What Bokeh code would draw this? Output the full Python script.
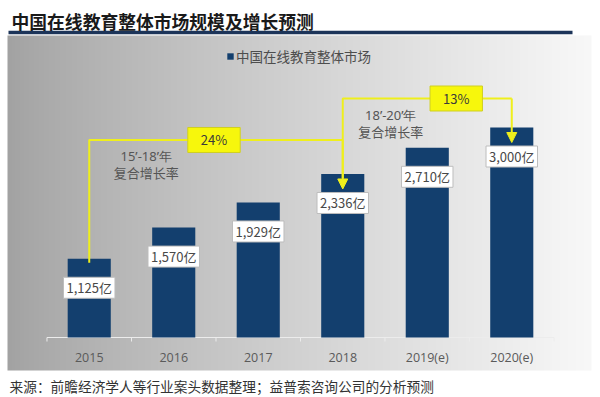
import numpy as np
from bokeh.plotting import figure
from bokeh.models import FactorRange, Range1d, Label, Arrow, NormalHead
from bokeh.embed import file_html
from bokeh.resources import INLINE

# ---------------- data ----------------
years = ["2015", "2016", "2017", "2018", "2019(e)", "2020(e)"]
market = [1125, 1570, 1929, 2336, 2710, 3000]          # 亿元
value_labels = [f"{v:,}亿" for v in market]
cagr_rates = ["24%", "13%"]
cagr_periods = ["15’-18’年", "18’-20’年"]
cagr_sub = ["复合增长率", "复合增长率"]
cagr_from = ["2015", "2018"]
cagr_to = ["2018", "2020(e)"]
series_name = "中国在线教育整体市场"
title_text = "中国在线教育整体市场规模及增长预测"
source_text = "来源：前瞻经济学人等行业案头数据整理；益普索咨询公司的分析预测"

# ---------------- layout helpers ----------------
W, H = 600, 397
PAD = 0.55                         # category padding
PPU = W / (len(years) + 2 * PAD)   # px per category
K = 0.070                          # px per 亿
BASE = 337                         # picture y of value 0


def X(px):   # picture x -> synthetic x
    return -PAD + px / PPU


def Y(py):   # picture y -> data y
    return (BASE - py) / K


def cx(cat):  # synthetic centre of a category
    return years.index(cat) + 0.5


FONT = "Noto Sans CJK SC"
YEL = "#efef1c"

p = figure(width=W, height=H,
           x_range=FactorRange(*years, range_padding=PAD, range_padding_units="absolute"),
           y_range=Range1d(Y(H), Y(0)),
           x_axis_location=None, y_axis_location=None,
           output_backend="svg", toolbar_location=None,
           min_border=0, min_border_left=0, min_border_right=0,
           min_border_top=0, min_border_bottom=0)
p.grid.visible = False
p.outline_line_color = None
p.background_fill_color = "white"
p.border_fill_color = "white"

# gray gradient panel
nx = 584
t = np.linspace(0, 1, nx)
g = (162 + (248 - 162) * t ** 0.85).astype(np.uint8)
img = np.zeros((1, nx), dtype=np.uint32)
view = img.view(dtype=np.uint8).reshape((1, nx, 4))
view[0, :, 0] = g
view[0, :, 1] = g
view[0, :, 2] = g
view[0, :, 3] = 255
p.image_rgba(image=[img], x=X(7), y=Y(370), dw=X(591) - X(7), dh=Y(35) - Y(370))

# title + underline
p.segment(x0=[X(8)], y0=[Y(32)], x1=[X(572)], y1=[Y(32)], line_color="#1c3459", line_width=3.5)
p.add_layout(Label(x=X(11), y=Y(20), text=title_text, text_font=FONT, text_font_size="17.8px",
                   text_font_style="bold", text_color="#1a1a1a", text_baseline="middle"))

# baseline axis
n = len(years)
p.line(x=[0, n], y=[0, 0], line_color="#ececec", line_width=1)
p.segment(x0=list(range(n + 1)), y0=[0] * (n + 1), x1=list(range(n + 1)), y1=[-4 / K] * (n + 1),
          line_color="#ececec", line_width=1)

# bars
p.vbar(x=years, top=market, width=0.51, fill_color="#133f6e", line_color=None,
       legend_label=series_name)

lg = p.legend[0]
lg.location = (226, 331)
lg.glyph_width = 8
lg.glyph_height = 8
lg.label_text_font = FONT
lg.label_text_font_size = "13.5px"
lg.label_text_color = "#4d4d4d"
lg.background_fill_alpha = 0
lg.border_line_color = None
lg.padding = 0
lg.margin = 0
lg.label_standoff = 2
lg.label_height = 14

# year labels
for yr in years:
    p.add_layout(Label(x=cx(yr), y=0, y_offset=-20, text=yr, text_align="center",
                       text_baseline="middle", text_font="Open Sans", text_font_size="12.5px",
                       text_color="#5a5a5a"))

# value labels
for yr, v, lab in zip(years, market, value_labels):
    p.add_layout(Label(x=cx(yr), y=v, y_offset=-29, text=lab, text_align="center",
                       text_baseline="middle", text_font=FONT, text_font_size="13px",
                       text_color="#484848", background_fill_color="white",
                       border_line_color="#bdbdbd", border_line_width=1,
                       padding=dict(left=3, right=3, top=1, bottom=1)))

# CAGR brackets
gaps = [34, 29]          # px above the target bar
box_shift = [-2, 29]     # px
text_shift = [59, 50]    # px from start category
for i in range(len(cagr_rates)):
    a = years.index(cagr_from[i])
    b = years.index(cagr_to[i])
    xa, xb = a + 0.5, b + 0.5
    yb = market[b] + gaps[i] / K
    p.line(x=[xa, xa, xb], y=[market[a] - 4 / K, yb, yb], line_color=YEL, line_width=2)
    p.add_layout(Arrow(end=NormalHead(size=10, fill_color=YEL, line_color=YEL),
                       x_start=xb, y_start=yb, x_end=xb, y_end=market[b] - 15 / K,
                       line_color=YEL, line_width=2))
    p.add_layout(Label(x=(xa + xb) / 2, y=yb, x_offset=box_shift[i], text=cagr_rates[i],
                       text_align="center", text_baseline="middle", text_font=FONT,
                       text_font_size="13px", text_color="#3a3a3a",
                       background_fill_color="#f7f70c", border_line_color="#cfcf20",
                       border_line_width=1,
                       padding=dict(left=13, right=13, top=3, bottom=3)))
    p.add_layout(Label(x=xa, y=yb, x_offset=text_shift[i] - 2, y_offset=-16, text=cagr_periods[i],
                       text_align="center", text_baseline="middle", text_font="Noto Sans",
                       text_font_size="13px", text_color="#555555"))
    p.add_layout(Label(x=xa, y=yb, x_offset=text_shift[i] - 2, y_offset=-33, text=cagr_sub[i],
                       text_align="center", text_baseline="middle", text_font=FONT,
                       text_font_size="13px", text_color="#555555"))

# source note
p.add_layout(Label(x=X(9), y=Y(385), text=source_text, text_font=FONT, text_font_size="13.7px",
                   text_color="#333333", text_baseline="middle"))

open("out.html", "w").write(file_html(p, INLINE))
